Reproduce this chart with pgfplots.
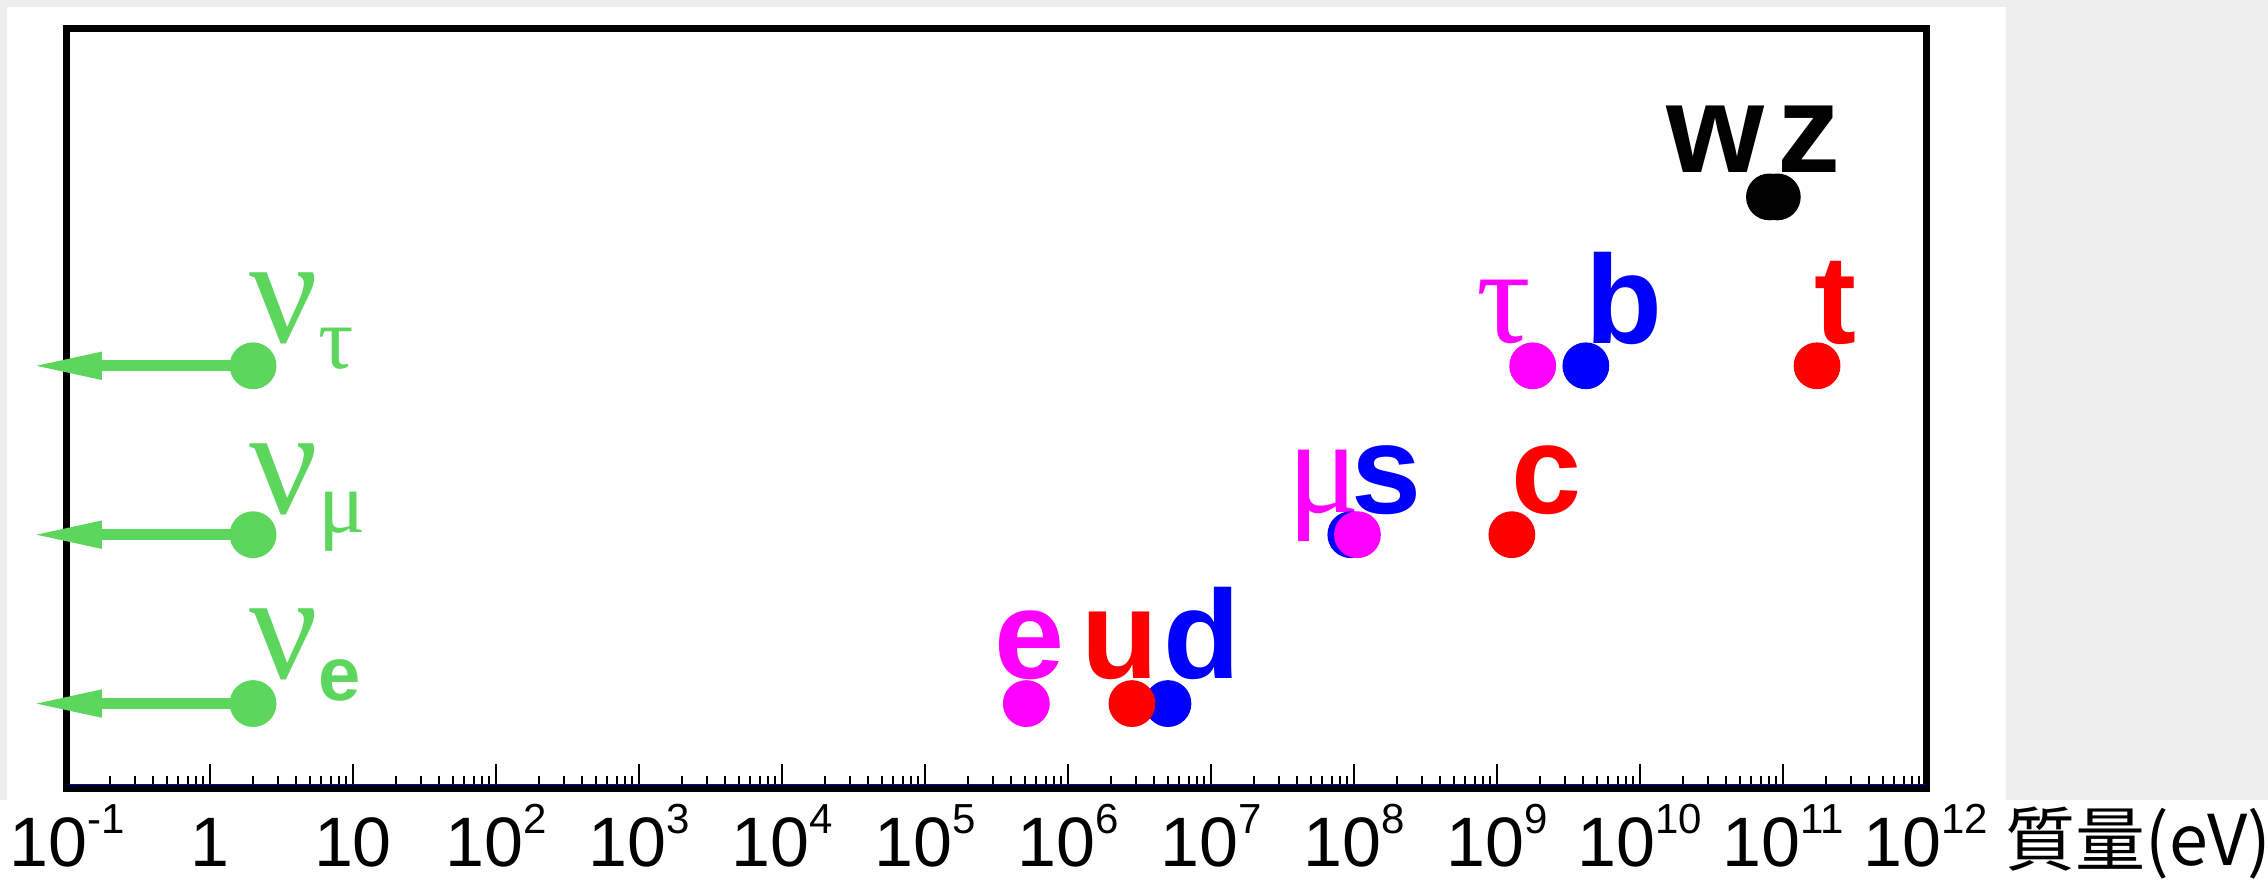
\documentclass[border=0pt]{standalone}
\usepackage{fontspec}
\setmainfont{Liberation Sans}
\newfontfamily\grk{Liberation Serif}
\newfontfamily\cjk{Noto Sans CJK JP}
\usepackage{pgfplots}
\pgfplotsset{compat=1.18}
\usetikzlibrary{arrows.meta}
\definecolor{bggray}{RGB}{237,237,237}
\definecolor{nugreen}{RGB}{92,214,92}
\definecolor{mag}{RGB}{255,0,255}
\newcommand{\sups}[1]{10\raisebox{8.25pt}{\fontsize{10.5pt}{10.5pt}\selectfont #1}}
\newcommand{\lab}{\fontsize{31.5pt}{31.5pt}\selectfont\bfseries}
\newcommand{\nulab}{\fontsize{38pt}{38pt}\selectfont\grk}
\newcommand{\gsub}{\fontsize{22pt}{22pt}\selectfont\grk}
\pgfplotsset{dot/.style={only marks, mark=*, mark size=5.7pt, color=#1, mark options={line width=0.3pt, fill=#1, draw=#1}}}
\begin{document}
\begin{tikzpicture}
\fill[bggray] (-16.75pt,-23.5pt) rectangle (550.25pt,197pt);
\fill[white] (-15pt,-3pt) rectangle (484.75pt,195.25pt);
\fill[white] (-16.75pt,-23.5pt) rectangle (550.25pt,-3pt);
\begin{axis}[
  at={(0,0)}, anchor=south west,
  scale only axis, width=464.75pt, height=190pt,
  xmode=log, xmin=0.1, xmax=1e12, ymin=0.5, ymax=5,
  axis line style={line width=1.75pt},
  ytick=\empty,
  xtick={1e-1,1,1e1,1e2,1e3,1e4,1e5,1e6,1e7,1e8,1e9,1e10,1e11,1e12},
  minor xtick={2e-1,3e-1,4e-1,5e-1,6e-1,7e-1,8e-1,9e-1,
    2,3,4,5,6,7,8,9,
    2e1,3e1,4e1,5e1,6e1,7e1,8e1,9e1,
    2e2,3e2,4e2,5e2,6e2,7e2,8e2,9e2,
    2e3,3e3,4e3,5e3,6e3,7e3,8e3,9e3,
    2e4,3e4,4e4,5e4,6e4,7e4,8e4,9e4,
    2e5,3e5,4e5,5e5,6e5,7e5,8e5,9e5,
    2e6,3e6,4e6,5e6,6e6,7e6,8e6,9e6,
    2e7,3e7,4e7,5e7,6e7,7e7,8e7,9e7,
    2e8,3e8,4e8,5e8,6e8,7e8,8e8,9e8,
    2e9,3e9,4e9,5e9,6e9,7e9,8e9,9e9,
    2e10,3e10,4e10,5e10,6e10,7e10,8e10,9e10,
    2e11,3e11,4e11,5e11,6e11,7e11,8e11,9e11},
  xticklabels={\sups{-1},1,10,\sups{2},\sups{3},\sups{4},\sups{5},\sups{6},\sups{7},\sups{8},\sups{9},\sups{10},\sups{11},\sups{12}},
  xtick pos=bottom, tick align=inside,
  major tick length=5.9pt, minor tick length=2.9pt,
  tick style={black, line width=0.5pt},
  xticklabel style={anchor=base, inner sep=0pt, yshift=-19.6pt, font=\fontsize{17.5pt}{17.5pt}\selectfont},
  clip=false,
]
% neutrinos
\addplot[nugreen, line width=2.75pt, -{Triangle[length=18pt,width=6.2pt]}] coordinates {(2,1) (0.0551,1)};
\addplot[nugreen, line width=2.75pt, -{Triangle[length=18pt,width=6.2pt]}] coordinates {(2,2) (0.0551,2)};
\addplot[nugreen, line width=2.75pt, -{Triangle[length=18pt,width=6.2pt]}] coordinates {(2,3) (0.0551,3)};
\addplot[dot=nugreen] coordinates {(2,1) (2,2) (2,3)};
% generation 1
\addplot[dot=mag] coordinates {(5.11e5,1)};
\addplot[dot=blue] coordinates {(5.0e6,1)};
\addplot[dot=red] coordinates {(2.8e6,1)};
% generation 2
\addplot[dot=blue] coordinates {(9.5e7,2)};
\addplot[dot=mag] coordinates {(1.057e8,2)};
\addplot[dot=red] coordinates {(1.27e9,2)};
% generation 3
\addplot[dot=mag] coordinates {(1.777e9,3)};
\addplot[dot=blue] coordinates {(4.18e9,3)};
\addplot[dot=red] coordinates {(1.73e11,3)};
% bosons
\addplot[dot=black] coordinates {(8.04e10,4) (9.12e10,4)};
% labels
\node[anchor=base west, nugreen, inner sep=0pt, xshift=-1pt, yshift=6.3pt] at (axis cs:2,1) {{\nulab ν}\raisebox{-5.5pt}{\fontsize{19pt}{19pt}\selectfont\bfseries e}};
\node[anchor=base west, nugreen, inner sep=0pt, xshift=-1pt, yshift=5.3pt] at (axis cs:2,2) {{\nulab ν}\raisebox{-4.8pt}{\gsub μ}};
\node[anchor=base west, nugreen, inner sep=0pt, xshift=-1pt, yshift=5.8pt] at (axis cs:2,3) {{\nulab ν}\raisebox{-6.5pt}{\gsub τ}};
\node[anchor=base, mag, xshift=0.8pt, yshift=6.3pt] at (axis cs:5.11e5,1) {\lab e};
\node[anchor=base, red, xshift=-2.9pt, yshift=6.3pt] at (axis cs:2.8e6,1) {\lab u};
\node[anchor=base, blue, xshift=8.4pt, yshift=6.3pt] at (axis cs:5.0e6,1) {\lab d};
\node[anchor=base, mag, inner sep=0pt, xshift=-8.3pt, yshift=5.6pt] at (axis cs:1.057e8,2) {\fontsize{34pt}{34pt}\selectfont\grk μ};
\node[anchor=base, blue, inner sep=0pt, xshift=9pt, yshift=5.3pt] at (axis cs:9.5e7,2) {\lab s};
\node[anchor=base, red, xshift=8.6pt, yshift=5.3pt] at (axis cs:1.27e9,2) {\lab c};
\node[anchor=base, mag, xshift=-7.3pt, yshift=5.8pt] at (axis cs:1.777e9,3) {\fontsize{34pt}{34pt}\selectfont\grk τ};
\node[anchor=base, blue, xshift=9.6pt, yshift=5.6pt] at (axis cs:4.18e9,3) {\lab b};
\node[anchor=base, red, xshift=4.7pt, yshift=5.6pt] at (axis cs:1.73e11,3) {\lab t};
\node[anchor=base, black, xshift=-13.6pt, yshift=6.1pt] at (axis cs:8.04e10,4) {\lab w};
\node[anchor=base, black, xshift=7.9pt, yshift=6.1pt] at (axis cs:9.12e10,4) {\lab z};
\draw[blue!70!black, line width=0.4pt] ([yshift=0.9pt]rel axis cs:0,0) -- ([yshift=0.9pt]rel axis cs:1,0);
\end{axis}
\node[anchor=base west, inner sep=0pt] at (484.5pt,-19.3pt) {\cjk\fontsize{17.5pt}{17.5pt}\selectfont 質量(eV)};
\pgfresetboundingbox
\path[use as bounding box] (-16.75pt,-23.5pt) rectangle (550.25pt,197pt);
\end{tikzpicture}
\end{document}
